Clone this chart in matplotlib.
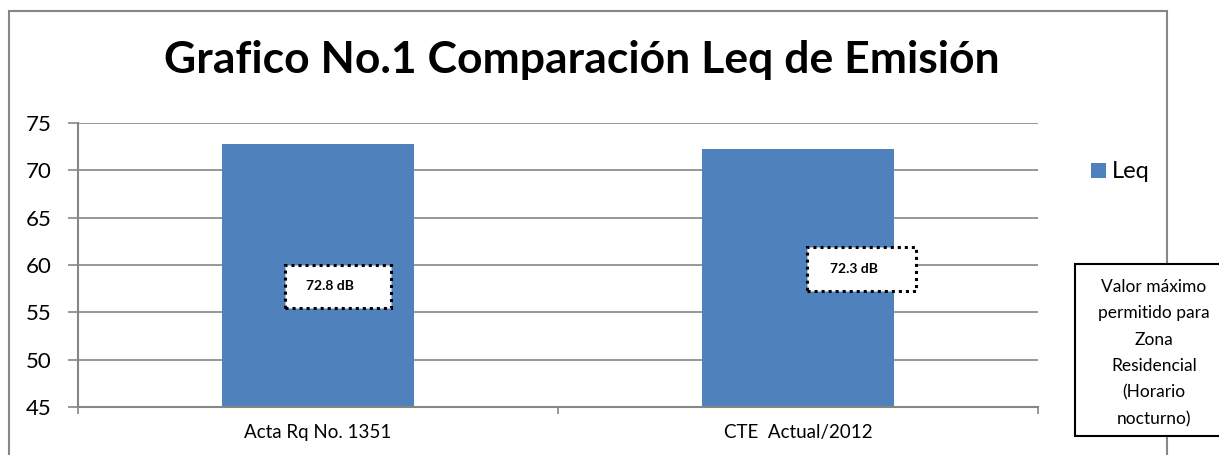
import matplotlib
matplotlib.use("Agg")
import matplotlib.pyplot as plt
from matplotlib.patches import Rectangle

categories = ["Acta Rq No. 1351", "CTE  Actual/2012"]
leq_values = [72.8, 72.3]
value_labels = ["72.8 dB", "72.3 dB"]
series_name = "Leq"
y_ticks = [45, 50, 55, 60, 65, 70, 75]
title = "Grafico No.1 Comparación Leq de Emisión"
note_text = "Valor máximo\npermitido para\nZona\nResidencial\n(Horario\nnocturno)"

W, H = 1219, 455
plt.rcParams['font.family'] = ['Lato', 'DejaVu Sans']
fig = plt.figure(figsize=(W / 100, H / 100), dpi=100)

def fx(px):
    return px / W

def fy(py):
    return 1 - py / H

# outer chart frame
fig.patches.append(Rectangle((fx(8.5), fy(470)), fx(1167) - fx(8.5), fy(11) - fy(470),
                             transform=fig.transFigure, fill=False,
                             edgecolor="#868686", linewidth=1.5, zorder=0))

ax = fig.add_axes([fx(78), fy(407), fx(1038) - fx(78), fy(123) - fy(407)])
grid_c = "#868686"
x = list(range(len(categories)))
bars = ax.bar(x, leq_values, width=0.4, color="#4F81BD", zorder=2, label=series_name)
ax.set_xlim(-0.5, len(categories) - 0.5)
ax.set_ylim(45, 75)
ax.set_yticks(y_ticks)
ax.set_yticklabels([str(t) for t in y_ticks], fontsize=16)
ax.set_xticks(x)
ax.set_xticklabels(categories, fontsize=13.5)
ax.set_xticks([-0.5, 0.5, 1.5], minor=True)
ax.tick_params(axis="x", which="major", length=0, pad=12)
ax.tick_params(axis="x", which="minor", length=5, color=grid_c, width=1.2)
ax.tick_params(axis="y", length=7, color=grid_c, width=1.2, pad=12)
ax.yaxis.grid(True, color=grid_c, linewidth=1.2, zorder=0)
ax.set_axisbelow(True)
for s in ["top", "right"]:
    ax.spines[s].set_visible(False)
for s in ["left", "bottom"]:
    ax.spines[s].set_color(grid_c)
    ax.spines[s].set_linewidth(1.5)

# data label boxes (pixel extents)
label_boxes = [(285, 265, 391, 308), (807, 247, 916, 291)]
for (x0, y0, x1, y1), txt in zip(label_boxes, value_labels):
    fig.patches.append(Rectangle((fx(x0), fy(y1)), fx(x1) - fx(x0), fy(y0) - fy(y1),
                                 transform=fig.transFigure, facecolor="white",
                                 edgecolor="black", linestyle=(0, (1, 1.3)),
                                 linewidth=2.2, zorder=3))
    fig.text(fx((x0 + x1) / 2 - 8), fy((y0 + y1) / 2), txt, ha="center", va="center",
             fontsize=10, fontweight="bold", zorder=4)

# title
fig.text(fx(582), fy(60), title, ha="center", va="center", fontsize=32,
         fontweight="bold")

# legend
fig.legend(handles=[bars.patches[0]], labels=[series_name], loc="center left",
           bbox_to_anchor=(fx(1091), fy(172)), frameon=False, fontsize=17,
           handlelength=0.62, handleheight=0.62, handletextpad=0.25,
           borderpad=0, borderaxespad=0)

# note box
fig.patches.append(Rectangle((fx(1075), fy(436)), fx(1240) - fx(1075), fy(264) - fy(436),
                             transform=fig.transFigure, facecolor="white",
                             edgecolor="black", linewidth=1.5, zorder=5))
fig.text(fx(1154), fy(353), note_text, ha="center", va="center", fontsize=12.5,
         linespacing=1.8, zorder=6)

fig.savefig("out.png", dpi=100)
